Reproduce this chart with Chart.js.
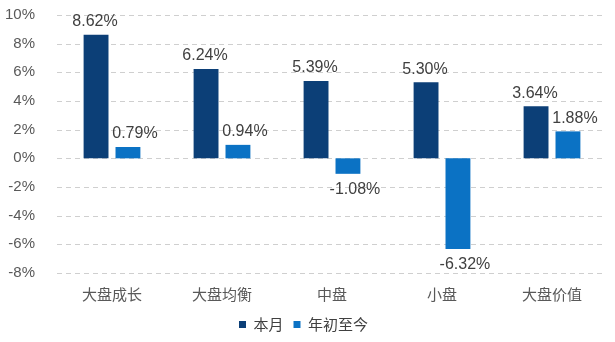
<!DOCTYPE html>
<html>
<head>
<meta charset="utf-8">
<script src="https://cdn.jsdelivr.net/npm/chart.js@4.4.0/dist/chart.umd.min.js"></script>
<style>
  html, body { margin: 0; padding: 0; background: #fff; }
  #wrap { width: 615px; height: 342px; }
</style>
</head>
<body>
<div id="wrap"><canvas id="c" width="615" height="342"></canvas></div>
<script>
// --- Data ---
const categories = ['大盘成长', '大盘均衡', '中盘', '小盘', '大盘价值'];
const monthly = [8.62, 6.24, 5.39, 5.30, 3.64];
const ytd = [0.79, 0.94, -1.08, -6.32, 1.88];
const seriesNames = ['本月', '年初至今'];

// dashed horizontal gridlines at every y tick
const dashedGrid = {
    id: 'dashedGrid',
    beforeDatasetsDraw(chart) {
        const { ctx, chartArea, scales: { y } } = chart;
        ctx.save();
        ctx.strokeStyle = '#cfcfcf';
        ctx.lineWidth = 1;
        ctx.setLineDash([5, 4]);
        y.ticks.forEach(t => {
            const py = Math.round(y.getPixelForValue(t.value)) + 0.5;
            ctx.beginPath();
            ctx.moveTo(chartArea.left, py);
            ctx.lineTo(chartArea.right - 4, py);
            ctx.stroke();
        });
        ctx.restore();
    }
};

// value labels above positive bars, below negative ones
const labelShift = [-1, 7];
const valueLabels = {
    id: 'valueLabels',
    afterDatasetsDraw(chart) {
        const ctx = chart.ctx;
        ctx.save();
        ctx.font = '16px "Liberation Sans", Arial, sans-serif';
        ctx.fillStyle = '#404040';
        ctx.textAlign = 'center';
        chart.data.datasets.forEach((ds, i) => {
            chart.getDatasetMeta(i).data.forEach((bar, j) => {
                const v = ds.data[j];
                const x = bar.x + labelShift[i];
                if (v >= 0) {
                    ctx.textBaseline = 'bottom';
                    ctx.fillText(v.toFixed(2) + '%', x, bar.y - 5);
                } else {
                    ctx.textBaseline = 'top';
                    ctx.fillText(v.toFixed(2) + '%', x, bar.y + 8);
                }
            });
        });
        ctx.restore();
    }
};

new Chart(document.getElementById('c'), {
    type: 'bar',
    data: {
        labels: categories,
        datasets: [
            { label: seriesNames[0], data: monthly, backgroundColor: '#0c3f77' },
            { label: seriesNames[1], data: ytd, backgroundColor: '#0b72c4' }
        ]
    },
    options: {
        responsive: false,
        animation: false,
        layout: { padding: { top: 15, right: 8, left: 0, bottom: 0 } },
        datasets: { bar: { categoryPercentage: 0.58, barPercentage: 0.78 } },
        plugins: {
            legend: {
                position: 'bottom',
                labels: {
                    boxWidth: 7, boxHeight: 7,
                    padding: 10,
                    color: '#404040',
                    font: { family: '"Noto Sans CJK SC", sans-serif', size: 15 }
                }
            },
            tooltip: { enabled: false }
        },
        scales: {
            x: {
                grid: { display: false },
                border: { display: false },
                ticks: {
                    color: '#595959', padding: 4,
                    font: { family: '"Noto Sans CJK SC", sans-serif', size: 15 }
                }
            },
            y: {
                min: -8, max: 10,
                afterFit(scale) {
                    scale.width = 57;
                    scale.paddingTop = 0;
                },
                grid: { display: false },
                border: { display: false },
                ticks: {
                    stepSize: 2, padding: 14,
                    color: '#595959',
                    font: { family: '"Liberation Sans", Arial, sans-serif', size: 15 },
                    callback: v => v + '%'
                }
            }
        }
    },
    plugins: [dashedGrid, valueLabels]
});
</script>
</body>
</html>
